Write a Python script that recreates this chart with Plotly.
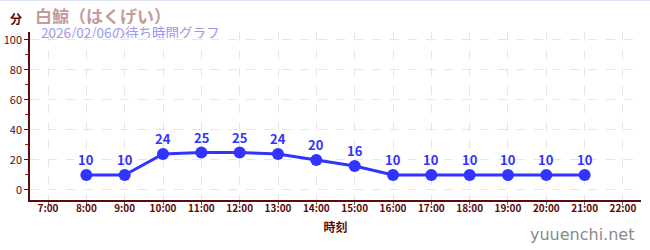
import plotly.graph_objects as go

hours = [8, 9, 10, 11, 12, 13, 14, 15, 16, 17, 18, 19, 20, 21]
waits = [10, 10, 24, 25, 25, 24, 20, 16, 10, 10, 10, 10, 10, 10]
tick_hours = list(range(7, 23))
tick_labels = [f"{h}:00" for h in tick_hours]
y_ticks = [0, 20, 40, 60, 80, 100]
y_minor = [10, 30, 50, 70, 90]
bands = [(20, 40), (60, 80)]

AX = "#5c0a0a"
FONT = "Noto Sans CJK JP"
W, H = 650, 250
L, R, T, B = 30, 9, 32, 50
PW, PH = W - L - R, H - T - B


def px(x):
    return (x - L) / PW


def py(y):
    return 1 - (y - T) / PH


fig = go.Figure()
fig.add_trace(go.Scatter(
    x=hours, y=waits, mode="lines+markers",
    line=dict(color="#3333ff", width=3),
    marker=dict(color="#3333ff", size=12),
    cliponaxis=False, hoverinfo="skip",
))

for lo, hi in bands:
    fig.add_hrect(y0=lo, y1=hi, fillcolor="#f4f4f4", line_width=0, layer="below")

annotations = [
    dict(x=h, y=v, text=str(v), showarrow=False, yshift=15, yanchor="middle",
         font=dict(color="#3333ff", size=13, family=FONT, weight="bold"))
    for h, v in zip(hours, waits)
]
annotations += [
    dict(text="分", x=px(8), y=py(18), xref="paper", yref="paper", showarrow=False,
         xanchor="left", yanchor="middle", font=dict(size=12, color=AX, weight="bold")),
    dict(text="白鯨（はくげい）", x=px(33), y=py(15.5), xref="paper", yref="paper", showarrow=False,
         xanchor="left", yanchor="middle", height=18,
         font=dict(size=17, color="#c49a9a", weight="bold")),
    dict(text="2026/02/06の待ち時間グラフ", x=px(39), y=py(31.5), xref="paper", yref="paper",
         showarrow=False, xanchor="left", yanchor="middle", height=13,
         font=dict(size=13.5, color="#9999ee")),
    dict(text="yuuenchi.net", x=px(636), y=py(234), xref="paper", yref="paper", showarrow=False,
         xanchor="right", yanchor="middle",
         font=dict(size=16, color="#8a8a8a", family="DejaVu Sans")),
]

fig.update_layout(
    width=W, height=H,
    margin=dict(l=L, r=R, t=T, b=B, autoexpand=False),
    paper_bgcolor="white", plot_bgcolor="white",
    showlegend=False,
    font=dict(family=FONT, color=AX),
    xaxis=dict(
        range=[6.53, 22.47], tickvals=tick_hours, ticktext=tick_labels,
        tickfont=dict(size=10, color=AX, weight="bold"),
        ticks="outside", ticklen=3, tickcolor="#666", ticklabelstandoff=-5,
        showline=True, linecolor=AX, linewidth=1.5,
        showgrid=True, gridcolor="#e6e6e6", griddash="dash", gridwidth=1,
        zeroline=False, fixedrange=True, automargin=False,
        title=dict(text="時刻", font=dict(size=12, color=AX, weight="bold"), standoff=10),
    ),
    yaxis=dict(
        range=[-6.7, 105.3], tickvals=y_ticks,
        tickfont=dict(size=11, color=AX),
        ticks="outside", ticklen=4, tickcolor=AX,
        showline=True, linecolor=AX, linewidth=1.5,
        showgrid=True, gridcolor="#e6e6e6", griddash="dash", gridwidth=1,
        zeroline=False, fixedrange=True, automargin=False,
        minor=dict(tickvals=y_minor, ticks="outside", ticklen=3,
                   tickcolor="#dd0000", showgrid=False),
    ),
    annotations=annotations,
    shapes=[dict(type="line", xref="paper", yref="paper", x0=px(0), x1=px(W),
                 y0=py(0.5), y1=py(0.5), line=dict(color="#e0e0f8", width=1))],
)

fig.write_html("out.html")
